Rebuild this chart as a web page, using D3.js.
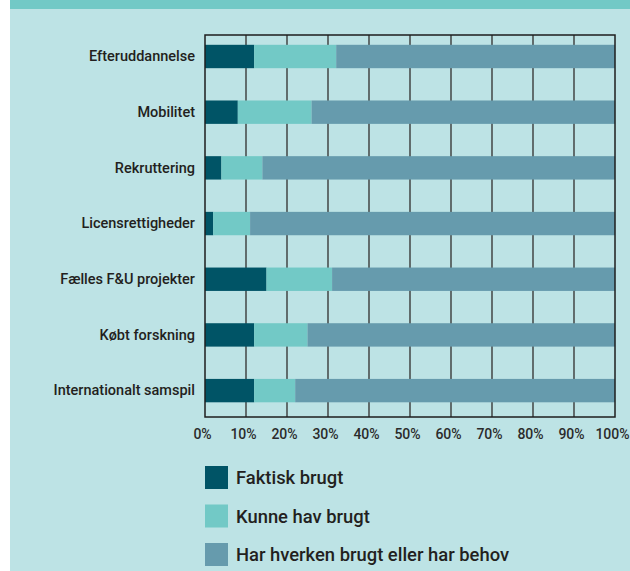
<!DOCTYPE html>
<html>
<head>
<meta charset="utf-8">
<script src="https://cdn.jsdelivr.net/npm/d3@7"></script>
<style>
  body { margin: 0; background: #fff; }
  text { font-family: Roboto, "DejaVu Sans", sans-serif; fill: #231f20; }
</style>
</head>
<body>
<div id="chart"></div>
<script>
var categories = ['Efteruddannelse', 'Mobilitet', 'Rekruttering', 'Licensrettigheder',
  'Fælles F&U projekter', 'Købt forskning', 'Internationalt samspil'];
var faktisk = [12, 8, 4, 2, 15, 12, 12];
var kunne = [20, 18, 10, 9, 16, 13, 10];
var ingen = [68, 74, 86, 89, 69, 75, 78];
var seriesNames = ['Faktisk brugt', 'Kunne hav brugt', 'Har hverken brugt eller har behov'];
var seriesColors = ['#005466', '#72c9c6', '#669bad'];
var tickValues = [0, 10, 20, 30, 40, 50, 60, 70, 80, 90, 100];

function drawChart() {
  var width = 630, height = 571;
  var margins = { left: 205, right: 15, top: 35, bottom: 154 };
  var frameWidth = width - margins.left - margins.right;
  var frameHeight = height - margins.top - margins.bottom;

  var svg = d3.select('#chart').append('svg')
    .attr('width', width)
    .attr('height', height);

  // background panel + top band
  svg.append('rect').attr('x', 10).attr('y', 0).attr('width', width - 10).attr('height', height)
    .attr('fill', '#bde3e5');
  svg.append('rect').attr('x', 10).attr('y', 0).attr('width', width - 10).attr('height', 9)
    .attr('fill', '#72c9c6');

  var g = svg.append('g')
    .attr('transform', 'translate(' + margins.left + ',' + margins.top + ')');

  var xScale = d3.scaleLinear().domain([0, 100]).range([0, frameWidth]);
  var yScale = d3.scaleBand().domain(categories).range([0, frameHeight])
    .paddingInner(0.58).paddingOuter(0.22).align(0.4);

  var rows = categories.map(function(c, i) {
    return { cat: c, faktisk: faktisk[i], kunne: kunne[i], ingen: ingen[i] };
  });
  var stack = d3.stack().keys(['faktisk', 'kunne', 'ingen'])(rows);

  // vertical grid lines
  g.selectAll('.grid')
    .data(tickValues.slice(1, -1))
    .enter().append('line')
    .attr('x1', function(d) { return xScale(d); })
    .attr('x2', function(d) { return xScale(d); })
    .attr('y1', 0).attr('y2', frameHeight)
    .attr('stroke', '#3a3a3a').attr('stroke-width', 1.4);

  g.selectAll('.layer')
    .data(stack)
    .enter().append('g')
    .attr('fill', function(d, i) { return seriesColors[i]; })
    .selectAll('rect')
    .data(function(d) { return d; })
    .enter().append('rect')
    .attr('x', function(d) { return xScale(d[0]); })
    .attr('width', function(d) { return xScale(d[1]) - xScale(d[0]); })
    .attr('y', function(d) { return yScale(d.data.cat); })
    .attr('height', yScale.bandwidth());

  // frame
  g.append('rect')
    .attr('x', 0).attr('y', 0).attr('width', frameWidth).attr('height', frameHeight)
    .attr('fill', 'none').attr('stroke', '#1e1e1e').attr('stroke-width', 1.5);

  var xAxis = d3.axisBottom(xScale).tickValues(tickValues)
    .tickFormat(function(d) { return d + '%'; }).tickSize(0).tickPadding(12);
  var ax = g.append('g')
    .attr('transform', 'translate(0,' + frameHeight + ')')
    .call(xAxis);
  ax.select('.domain').remove();
  ax.selectAll('text')
    .attr('dx', -3)
    .style('font-size', '14px').style('font-weight', 500).style('fill', '#2b2b2b');

  var yAxis = d3.axisLeft(yScale).tickSize(0).tickPadding(10);
  var ay = g.append('g').call(yAxis);
  ay.select('.domain').remove();
  ay.selectAll('text')
    .style('font-size', '14.5px').style('font-weight', 500).style('fill', '#231f20');

  // legend
  var legend = svg.append('g').attr('transform', 'translate(205,466)');
  var items = legend.selectAll('g')
    .data(seriesNames)
    .enter().append('g')
    .attr('transform', function(d, i) { return 'translate(0,' + (i * 38.5) + ')'; });
  items.append('rect')
    .attr('width', 23).attr('height', 23)
    .attr('fill', function(d, i) { return seriesColors[i]; });
  items.append('text')
    .attr('x', 31).attr('y', 12).attr('dy', '0.35em')
    .style('font-size', '18.4px').style('font-weight', 500)
    .text(function(d) { return d; });
}

drawChart();
</script>
</body>
</html>
